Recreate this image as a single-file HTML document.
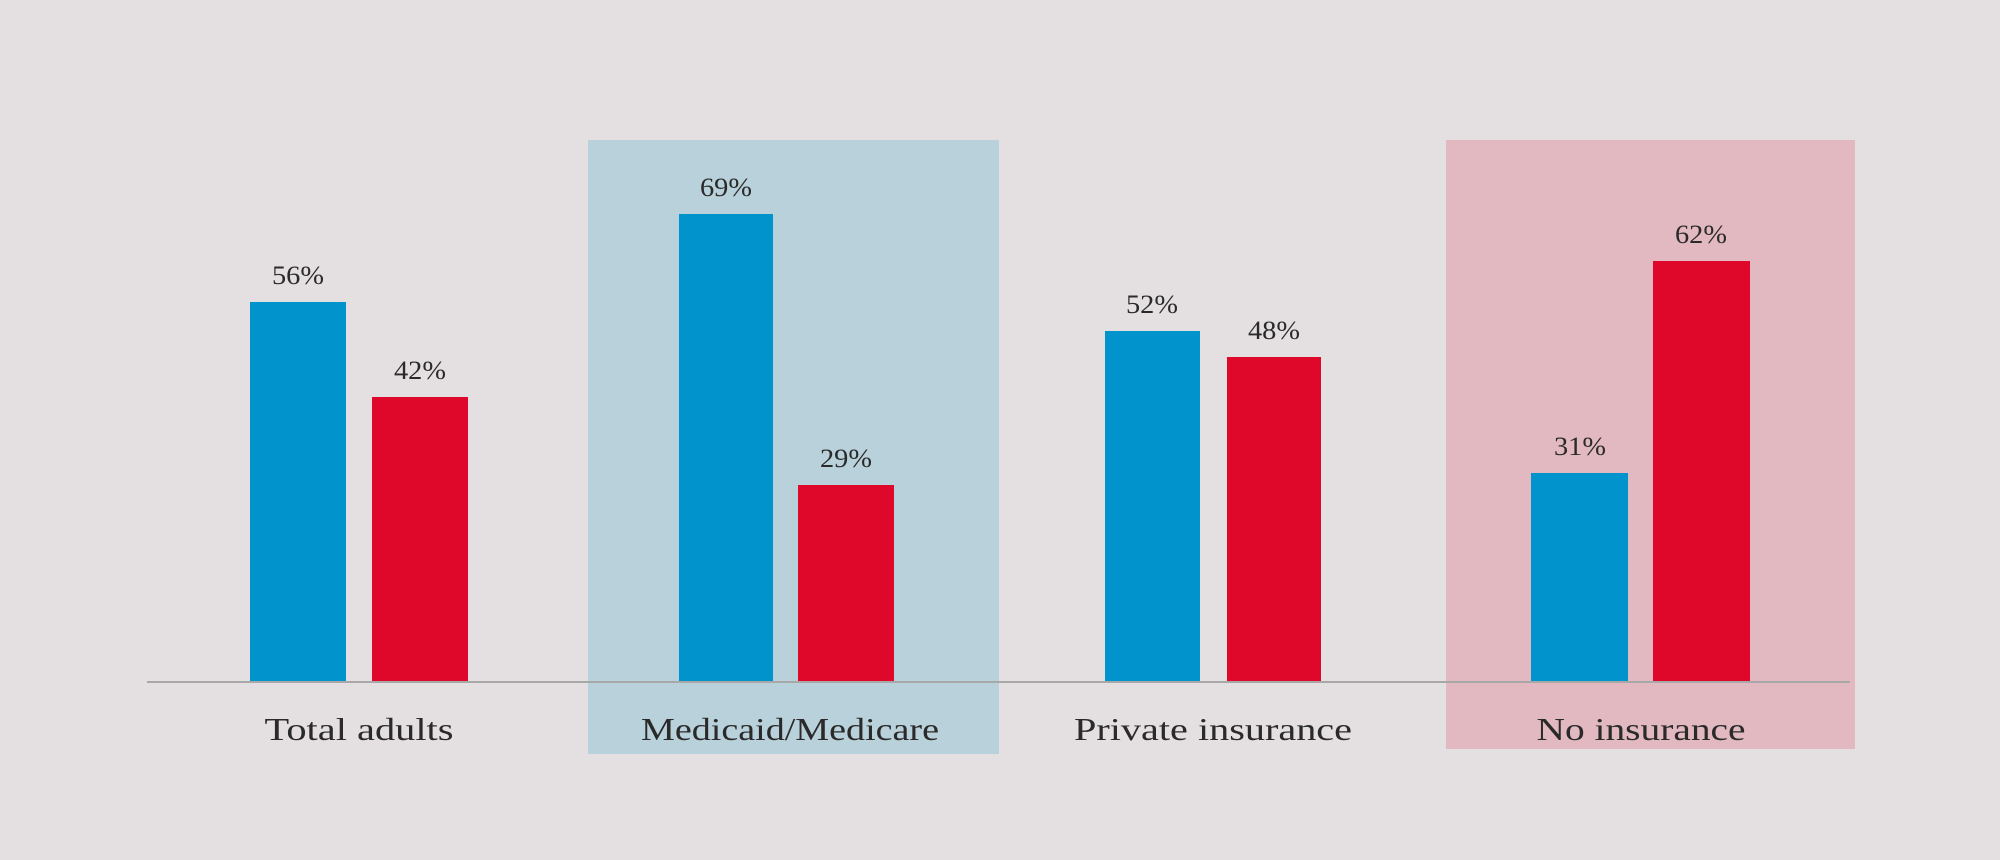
<!DOCTYPE html>
<html><head><style>
html,body{margin:0;padding:0;background:#e4e0e1;}
svg{display:block}
text{font-family:"Liberation Serif",serif;fill:#2a2a2a;text-anchor:middle}
.v{font-size:26px}
.c{font-size:32px}
</style></head><body>
<svg width="2000" height="860" viewBox="0 0 2000 860">
<rect width="2000" height="860" fill="#e4e0e1"/>
<rect x="588" y="140" width="411" height="614" fill="#b9d1da"/>
<rect x="1446" y="140" width="409" height="609" fill="#e2b9c0"/>
<line x1="147" y1="682" x2="1850" y2="682" stroke="#a8a8a8" stroke-width="2"/>
<rect x="250" y="302" width="96" height="379" fill="#0093cc"/>
<rect x="372" y="397" width="96" height="284" fill="#e0082a"/>
<rect x="679" y="214" width="94" height="467" fill="#0093cc"/>
<rect x="798" y="485" width="96" height="196" fill="#e0082a"/>
<rect x="1105" y="331" width="95" height="350" fill="#0093cc"/>
<rect x="1227" y="357" width="94" height="324" fill="#e0082a"/>
<rect x="1531" y="473" width="97" height="208" fill="#0093cc"/>
<rect x="1653" y="261" width="97" height="420" fill="#e0082a"/>
<g class="v">
<text x="298" y="284" textLength="52" lengthAdjust="spacingAndGlyphs">56%</text>
<text x="420" y="379" textLength="52" lengthAdjust="spacingAndGlyphs">42%</text>
<text x="726" y="196" textLength="52" lengthAdjust="spacingAndGlyphs">69%</text>
<text x="846" y="467" textLength="52" lengthAdjust="spacingAndGlyphs">29%</text>
<text x="1152" y="313" textLength="52" lengthAdjust="spacingAndGlyphs">52%</text>
<text x="1274" y="339" textLength="52" lengthAdjust="spacingAndGlyphs">48%</text>
<text x="1580" y="455" textLength="52" lengthAdjust="spacingAndGlyphs">31%</text>
<text x="1701" y="243" textLength="52" lengthAdjust="spacingAndGlyphs">62%</text>
</g>
<g class="c">
<text x="359" y="740" textLength="189" lengthAdjust="spacingAndGlyphs">Total adults</text>
<text x="790" y="740" textLength="298" lengthAdjust="spacingAndGlyphs">Medicaid/Medicare</text>
<text x="1213" y="740" textLength="278" lengthAdjust="spacingAndGlyphs">Private insurance</text>
<text x="1641" y="740" textLength="209" lengthAdjust="spacingAndGlyphs">No insurance</text>
</g>
</svg>
</body></html>
